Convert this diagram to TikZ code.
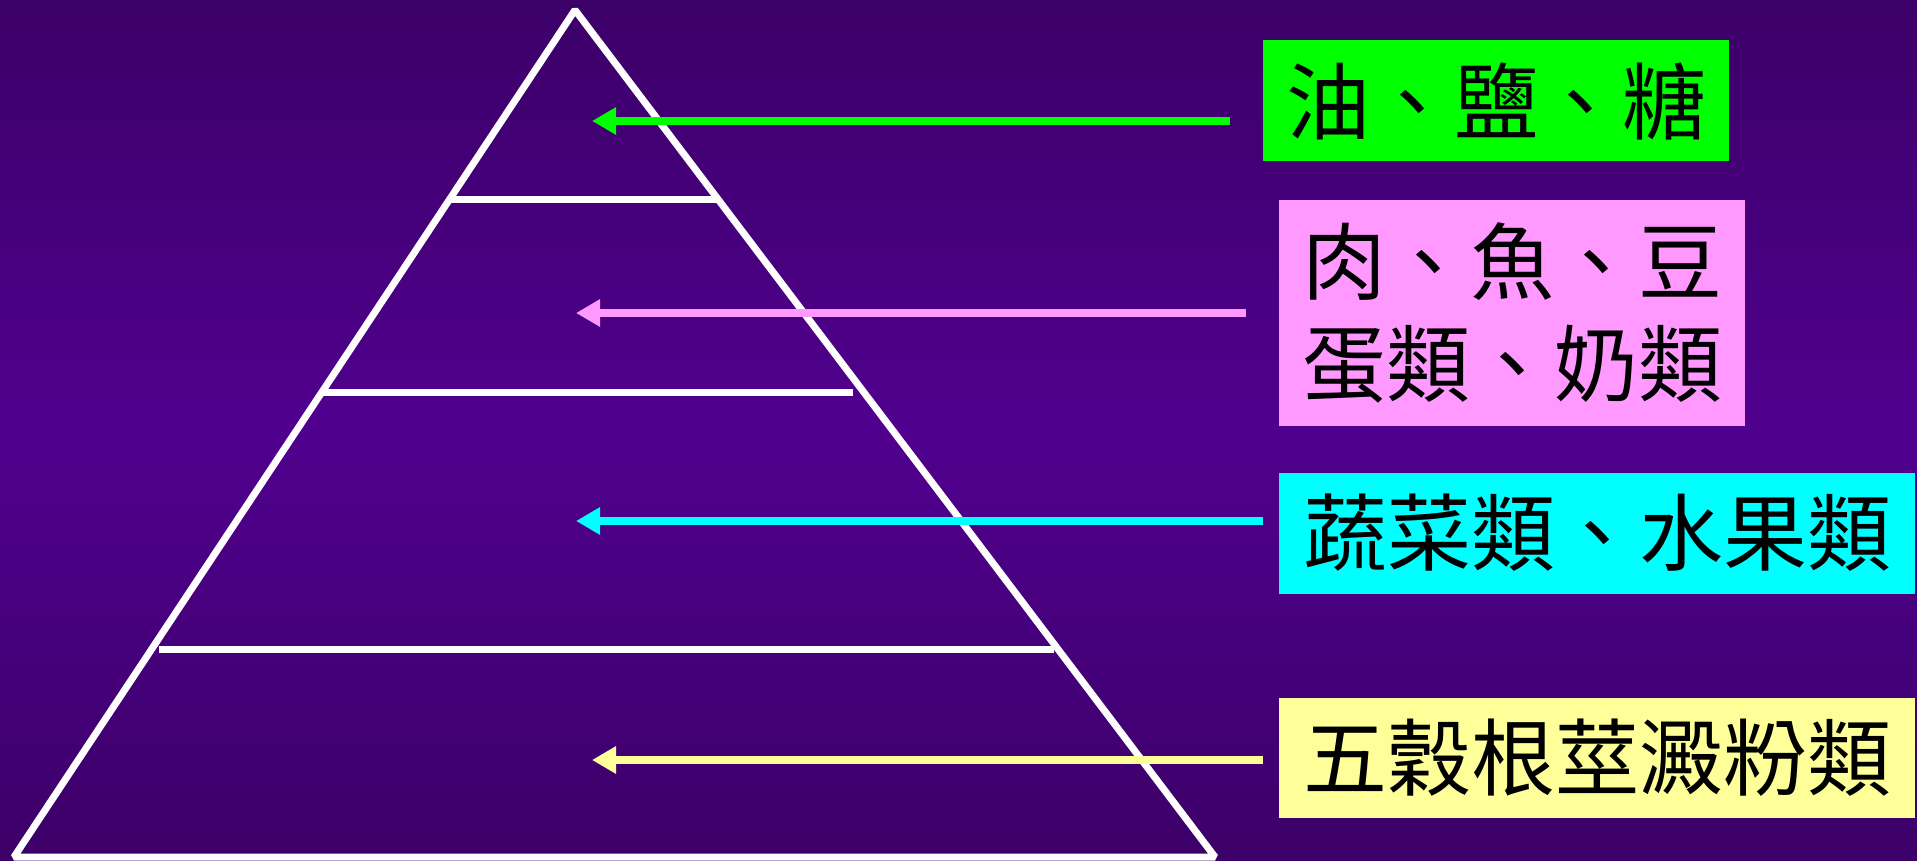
\documentclass[tikz,border=0pt]{standalone}
\usepackage{fontspec}
\newfontfamily\cjk{Noto Sans CJK TC}
\usetikzlibrary{arrows.meta}
\definecolor{bgdark}{HTML}{3C0068}
\definecolor{bgmid}{HTML}{50008E}
\definecolor{oilgreen}{HTML}{00FF00}
\definecolor{meatpink}{HTML}{FF99FF}
\definecolor{vegcyan}{HTML}{00FFFF}
\definecolor{grainyellow}{HTML}{FFFF99}
\begin{document}
\begin{tikzpicture}[x=1pt,y=-1pt,
  edge/.style={white, line width=7pt},
  pointer/.style={line width=8pt, -{Triangle[length=24pt,width=26pt]}},
  tagbox/.style={inner sep=0pt, draw=none, text=black, align=center,
    font=\cjk\fontsize{84}{102}\selectfont}]
\useasboundingbox (0,0) rectangle (1917,861);
\shade[top color=bgdark, bottom color=bgdark, middle color=bgmid] (0,0) rectangle (1917,861);
% pyramid
\draw[edge, line join=bevel] (14,857) -- (575,10) -- (1215,857) -- cycle;
\draw[edge] (450,200) -- (719,200);
\draw[edge] (321,392) -- (853,392);
\draw[edge] (159,649) -- (1054,649);
% boxes
\node[tagbox, fill=oilgreen, minimum width=466pt, minimum height=121pt] (oil) at (1496,101) {油、鹽、糖};
\node[tagbox, fill=meatpink, minimum width=466pt, minimum height=225pt] (meat) at (1512,313) {肉、魚、豆\\蛋類、奶類};
\node[tagbox, fill=vegcyan, minimum width=636pt, minimum height=121pt] (veg) at (1597,533) {蔬菜類、水果類};
\node[tagbox, fill=grainyellow, minimum width=636pt, minimum height=120pt] (grain) at (1597,758) {五穀根莖澱粉類};
% arrow ends
\coordinate (oilS) at (1230,121);
\coordinate (oilT) at (592,121);
\coordinate (meatS) at (1246,313);
\coordinate (meatT) at (576,313);
\coordinate (vegS) at (1263,521);
\coordinate (vegT) at (576,521);
\coordinate (grainS) at (1263,760);
\coordinate (grainT) at (592,760);
\draw[pointer, oilgreen] (oilS) -- (oilT);
\draw[pointer, meatpink] (meatS) -- (meatT);
\draw[pointer, vegcyan] (vegS) -- (vegT);
\draw[pointer, grainyellow] (grainS) -- (grainT);
\end{tikzpicture}
\end{document}
